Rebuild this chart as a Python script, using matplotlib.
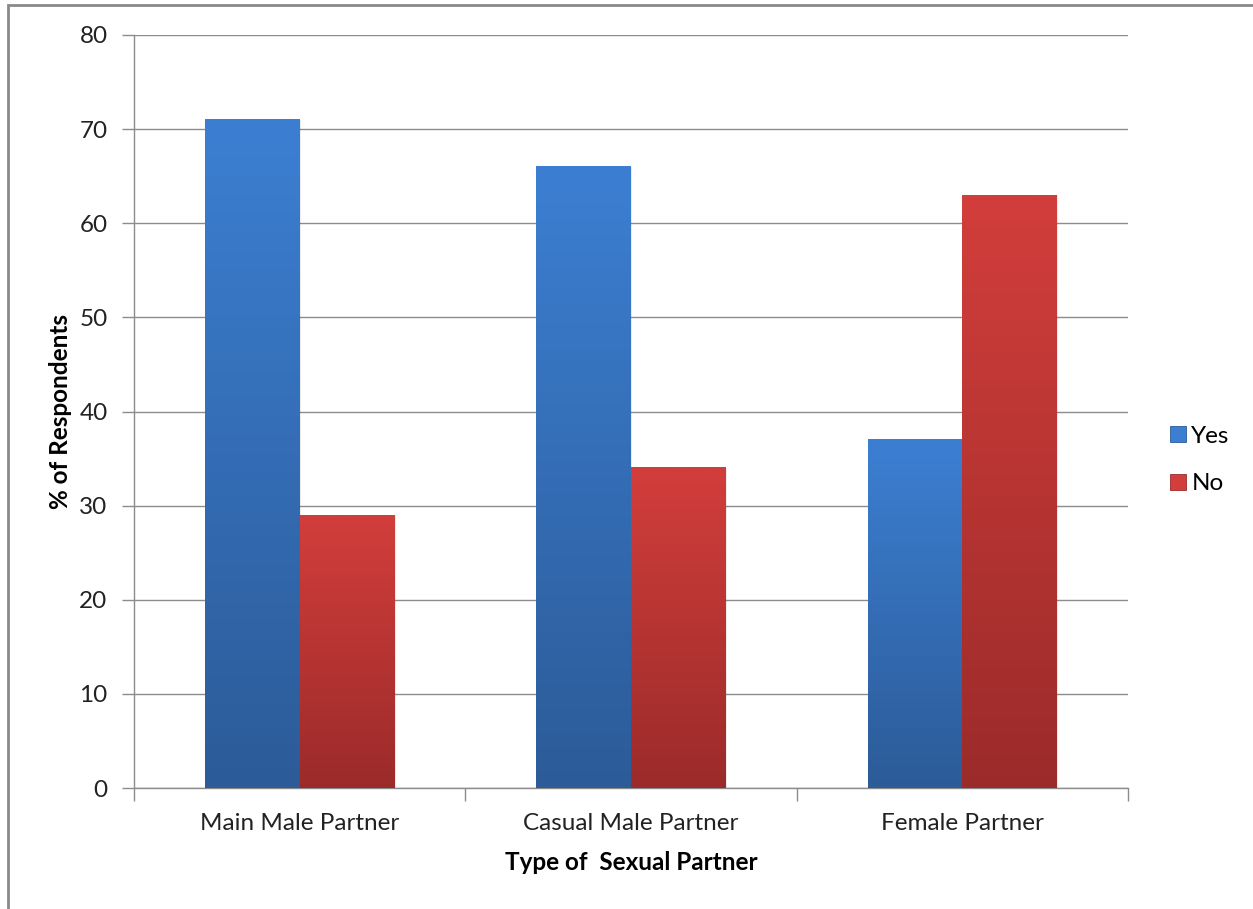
import numpy as np
import matplotlib
matplotlib.use("Agg")
import matplotlib.pyplot as plt
from matplotlib.colors import LinearSegmentedColormap
from matplotlib.patches import Rectangle
from matplotlib.lines import Line2D

plt.rcParams['font.family'] = ['Lato', 'DejaVu Sans']

categories = ["Main Male Partner", "Casual Male Partner", "Female Partner"]
series_names = ["Yes", "No"]
yes_values = [71, 66, 37]
no_values = [29, 34, 63]
y_ticks = [0, 10, 20, 30, 40, 50, 60, 70, 80]

# gradient colours per series: (top, bottom)
gradients = {
    "Yes": ("#3C7FD2", "#2C5B98"),
    "No": ("#D23E3B", "#9B2B2A"),
}

fig = plt.figure(figsize=(12.53, 9.09), dpi=100)
ax = fig.add_axes([0.1069, 0.1331, 0.7933, 0.8284])

x = np.arange(len(categories))
width = 0.2857
fs = 17.5

grey = "#8C8C8C"
ax.set_ylim(0, 80)
ax.set_xlim(-0.5, len(categories) - 0.5)
ax.set_yticks(y_ticks)
ax.yaxis.grid(True, color=grey, linewidth=1.0)
ax.set_axisbelow(True)
for s in ["top", "right"]:
    ax.spines[s].set_visible(False)
ax.spines["left"].set_color(grey)
ax.spines["bottom"].set_color(grey)
ax.spines["left"].set_linewidth(1.0)
ax.spines["bottom"].set_linewidth(1.0)

ax.tick_params(axis="y", length=9, width=1, color=grey, labelsize=fs,
               labelcolor="#222222", pad=10)
ax.set_xticks(x)
ax.set_xticklabels(categories, fontsize=fs, color="#222222")
ax.tick_params(axis="x", length=0, pad=18)
# category boundary ticks
ax.set_xticks(np.arange(len(categories) + 1) - 0.5, minor=True)
ax.tick_params(axis="x", which="minor", length=9, width=1, color=grey)

def gradient_bar(xs, heights, name):
    top, bottom = gradients[name]
    cmap = LinearSegmentedColormap.from_list(name, [bottom, top])
    bars = ax.bar(xs, heights, width, color="none", edgecolor="none", zorder=3)
    grad = np.linspace(0, 1, 256).reshape(-1, 1)
    for b in bars:
        x0, y0 = b.get_x(), b.get_y()
        w, h = b.get_width(), b.get_height()
        # soft drop shadow
        ax.add_patch(Rectangle((x0 + 0.004, y0), w, h, facecolor="#000000",
                               alpha=0.08, edgecolor="none", zorder=2.5))
        ax.imshow(grad, cmap=cmap, origin="lower", aspect="auto",
                  extent=(x0, x0 + w, y0, y0 + h), zorder=3,
                  interpolation="bilinear")
    return bars

gradient_bar(x - width / 2, yes_values, "Yes")
gradient_bar(x + width / 2, no_values, "No")
ax.set_xlim(-0.5, len(categories) - 0.5)
ax.set_ylim(0, 80)

ax.set_ylabel("% of Respondents", fontsize=fs, fontweight="bold", labelpad=5)
ax.set_xlabel("Type of  Sexual Partner", fontsize=fs, fontweight="bold", labelpad=12)

handles = [Line2D([0], [0], marker="s", linestyle="none", markersize=11,
                  markerfacecolor=gradients[n][0], markeredgecolor=gradients[n][1],
                  markeredgewidth=0.6) for n in series_names]
fig.legend(handles, series_names, loc="center left",
           bbox_to_anchor=(0.913, 0.494), frameon=False, fontsize=fs,
           handletextpad=0.05, labelspacing=1.1, handlelength=1.0)

# outer chart border
fig.add_artist(Rectangle((8 / 1253, -0.05), 1.2, 1 - 5 / 909 + 0.05,
                         transform=fig.transFigure, fill=False,
                         edgecolor="#8A8A8A", linewidth=2))

fig.savefig("out.png", dpi=100)
